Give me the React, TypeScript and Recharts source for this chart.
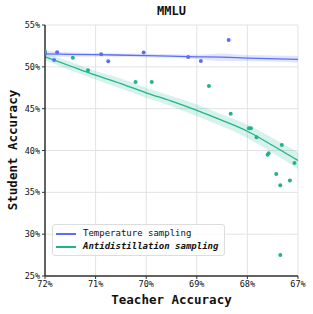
import React from 'react';
import { ComposedChart, Line, Area, Scatter, XAxis, YAxis, CartesianGrid } from 'recharts';

const BLUE = '#5a6ef6';
const GREEN = '#1fb589';
const MONO = '"DejaVu Sans Mono", monospace';

const xTicks = [72, 71, 70, 69, 68, 67];
const yTicks = [25, 30, 35, 40, 45, 50, 55];

// temperature sampling points
const tempX = [72.0, 71.82, 71.76, 70.89, 70.75, 70.05, 69.17, 68.92, 68.37];
const tempY = [51.6, 50.82, 51.74, 51.5, 50.66, 51.7, 51.18, 50.7, 53.2];

// antidistillation sampling points
const antiX = [72.0, 71.45, 71.15, 70.21, 69.89, 68.76, 68.33, 67.97, 67.93, 67.82, 67.32, 67.6, 67.58, 67.07, 67.43, 67.16, 67.35, 67.35];
const antiY = [51.86, 51.1, 49.59, 48.19, 48.19, 47.71, 44.4, 42.65, 42.65, 41.58, 40.66, 39.5, 39.67, 38.5, 37.2, 36.4, 35.85, 27.52];

// fitted trends + confidence bands
const tempFitX = [72, 71, 70, 69, 68.5, 68, 67];
const tempFitY = [51.55, 51.45, 51.35, 51.2, 51.15, 51.05, 50.9];
const tempLo = [51.2, 51.25, 51.15, 50.95, 50.7, 50.7, 50.5];
const tempHi = [51.9, 51.65, 51.55, 51.45, 51.6, 51.4, 51.3];

const antiFitX = [72, 71.5, 71, 70.5, 70, 69.5, 69, 68.5, 68, 67.5, 67];
const antiFitY = [51.2, 50.1, 49.0, 48.0, 46.9, 45.9, 44.8, 43.6, 42.3, 40.6, 38.8];
const antiLo = [50.8, 49.6, 48.5, 47.4, 46.3, 45.3, 44.1, 42.9, 41.5, 39.7, 37.8];
const antiHi = [51.6, 50.6, 49.5, 48.6, 47.5, 46.5, 45.5, 44.3, 43.1, 41.5, 39.8];

const tempPts = tempX.map((x, i) => ({ x, y: tempY[i] }));
const antiPts = antiX.map((x, i) => ({ x, y: antiY[i] }));
const tempFit = tempFitX.map((x, i) => ({ x, fit: tempFitY[i], band: [tempLo[i], tempHi[i]] }));
const antiFit = antiFitX.map((x, i) => ({ x, fit: antiFitY[i], band: [antiLo[i], antiHi[i]] }));

const Dot = (color: string) => (props: any) => (
  <circle cx={props.cx} cy={props.cy} r={2} fill={color} />
);

const labelStyle: React.CSSProperties = {
  position: 'absolute',
  fontFamily: MONO,
  fontWeight: 'bold',
  fontSize: 12.5,
  color: '#111',
  whiteSpace: 'nowrap',
};

const LegendBox = () => (
  <div
    style={{
      position: 'absolute',
      left: 52,
      top: 224,
      border: '1px solid #ddd',
      borderRadius: 3,
      background: 'rgba(255,255,255,0.85)',
      padding: '2px 6px 2px 3px',
      fontFamily: MONO,
      fontSize: 9,
      lineHeight: '13px',
      color: '#111',
    }}
  >
    <div style={{ display: 'flex', alignItems: 'center' }}>
      <span style={{ display: 'inline-block', width: 20, height: 2, background: BLUE, marginRight: 7 }} />
      Temperature sampling
    </div>
    <div style={{ display: 'flex', alignItems: 'center', fontWeight: 'bold', fontStyle: 'italic' }}>
      <span style={{ display: 'inline-block', width: 20, height: 2, background: GREEN, marginRight: 7 }} />
      Antidistillation sampling
    </div>
  </div>
);

export default function App() {
  return (
    <div style={{ position: 'absolute', left: 0, top: 0, width: 313, height: 314, background: '#fff' }}>
      <ComposedChart width={313} height={314} margin={{ top: 25, right: 15, left: 0, bottom: 0 }}>
        <CartesianGrid stroke="#e3e3e3" strokeWidth={1} />
        <XAxis
          dataKey="x"
          type="number"
          domain={[67, 72]}
          reversed
          ticks={xTicks}
          tickFormatter={(v) => `${v}%`}
          height={38}
          tick={{ fontSize: 8.5, fontFamily: MONO, fill: '#111' }}
          tickSize={3}
          tickLine={{ stroke: '#333' }}
          axisLine={{ stroke: '#333', strokeWidth: 1.5 }}
          allowDataOverflow
        />
        <XAxis xAxisId="top" orientation="top" type="number" domain={[67, 72]} height={0} tick={false} tickLine={false} axisLine={{ stroke: '#666' }} />
        <YAxis
          type="number"
          domain={[25, 55]}
          ticks={yTicks}
          tickFormatter={(v) => `${v}%`}
          width={45}
          tick={{ fontSize: 8.5, fontFamily: MONO, fill: '#111' }}
          tickSize={3}
          tickLine={{ stroke: '#333' }}
          axisLine={{ stroke: '#333', strokeWidth: 1.5 }}
          allowDataOverflow
        />
        <YAxis yAxisId="right" orientation="right" type="number" domain={[25, 55]} width={0} tick={false} tickLine={false} axisLine={{ stroke: '#666' }} />
        <Area data={tempFit} dataKey="band" type="monotone" stroke="none" fill={BLUE} fillOpacity={0.18} isAnimationActive={false} />
        <Area data={antiFit} dataKey="band" type="monotone" stroke="none" fill={GREEN} fillOpacity={0.18} isAnimationActive={false} />
        <Line data={tempFit} dataKey="fit" type="monotone" stroke={BLUE} strokeWidth={1.3} dot={false} isAnimationActive={false} />
        <Line data={antiFit} dataKey="fit" type="monotone" stroke={GREEN} strokeWidth={1.3} dot={false} isAnimationActive={false} />
        <Scatter data={tempPts} dataKey="y" shape={Dot(BLUE)} isAnimationActive={false} />
        <Scatter data={antiPts} dataKey="y" shape={Dot(GREEN)} isAnimationActive={false} />
      </ComposedChart>
      <div style={{ ...labelStyle, top: 4, left: 45, width: 253, textAlign: 'center', fontSize: 12 }}>MMLU</div>
      <div style={{ ...labelStyle, top: 292, left: 45, width: 253, textAlign: 'center' }}>Teacher Accuracy</div>
      <div
        style={{
          ...labelStyle,
          left: 12,
          top: 150,
          transform: 'translate(-50%, -50%) rotate(-90deg)',
        }}
      >
        Student Accuracy
      </div>
      <LegendBox />
    </div>
  );
}
